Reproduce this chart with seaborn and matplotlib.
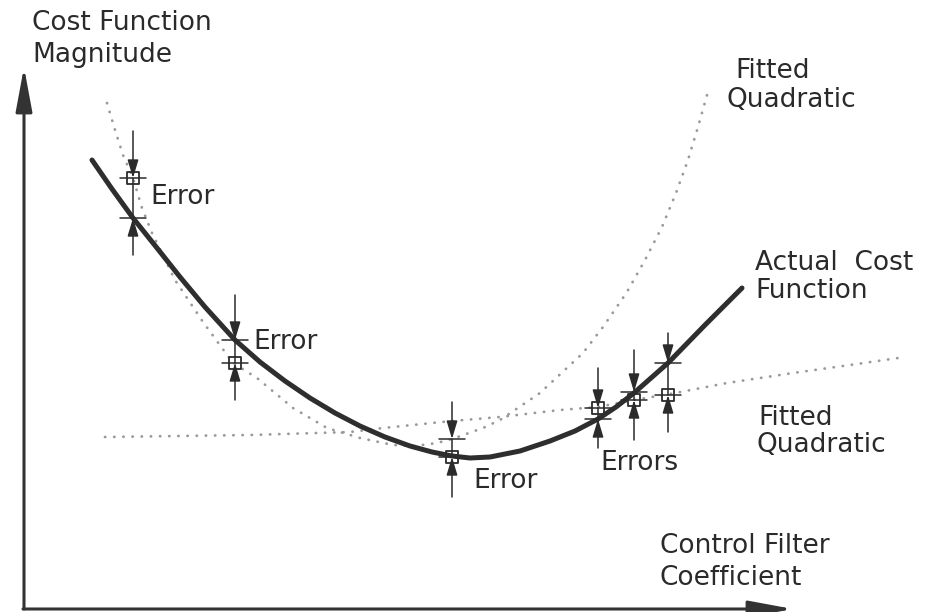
import matplotlib
matplotlib.use("Agg")
import matplotlib.pyplot as plt
import seaborn as sns
import pandas as pd

# Actual cost function (control filter coefficient vs. cost magnitude)
actual_coef = [68, 88, 109, 133, 156, 181, 211, 236, 261, 286, 311, 336, 361, 386, 408, 428,
               446, 466, 496, 526, 551, 574, 592, 610, 627, 644, 681, 718]
actual_cost = [448, 419, 390, 360, 331, 301, 268, 246, 227, 210, 195, 182, 171, 162, 156, 152,
               150, 151, 157, 167, 177, 189, 201, 215, 230, 245, 283, 320]

# Quadratic fitted to the widely spaced samples
steep_coef = [83, 91, 99, 109, 118, 128, 151, 179, 209, 233, 251, 269, 303, 336, 369, 391, 413, 428,
              459, 476, 516, 559, 579, 603, 621, 638, 652, 664, 674, 683]
steep_cost = [505, 478, 453, 430, 400, 375, 328, 286, 245, 230, 215, 200, 180, 170, 163, 162, 165, 169,
              180, 188, 215, 255, 281, 316, 348, 381, 415, 448, 481, 513]

# Quadratic fitted to the closely spaced samples
flat_coef = [81, 226, 326, 359, 428, 476, 536, 574, 610, 646, 703, 769, 826, 881]
flat_cost = [171, 173, 176, 180, 187, 191, 198, 201, 208, 214, 225, 235, 243, 251]

# Error markers: coefficient, upper / lower value, extent of the leader line
err_coef = [109, 211, 428, 574, 610, 644]
err_upper = [430, 268, 169, 200, 216, 245]
err_lower = [390, 245, 151, 189, 208, 213]
err_top = [477, 313, 206, 240, 258, 275]
err_bottom = [353, 208, 111, 160, 168, 176]
square_on = ["upper", "lower", "lower", "upper", "lower", "lower"]

labels = [
    ("Cost Function", 8, 578), ("Magnitude", 8, 546),
    ("Error", 126, 404), ("Error", 229, 259), ("Error", 449, 120), ("Errors", 576, 138),
    ("Fitted", 711, 530), ("Quadratic", 703, 501),
    ("Actual  Cost", 731, 338), ("Function", 731, 310),
    ("Fitted", 734, 183), ("Quadratic", 733, 156),
    ("Control Filter", 636, 55), ("Coefficient", 636, 23),
]

sns.set_theme(style="white")
plt.rcParams["font.family"] = ["DejaVu Sans"]

ink = "#2b2b2b"
dots = "#9a9a9a"

fig = plt.figure(figsize=(9.27, 6.12), dpi=100)
ax = fig.add_axes([0, 0, 1, 1])
ax.set_xlim(-24, 903)
ax.set_ylim(-4, 608)
ax.set_axis_off()

actual = pd.DataFrame({"coef": actual_coef, "cost": actual_cost})
steep = pd.DataFrame({"coef": steep_coef, "cost": steep_cost})
flat = pd.DataFrame({"coef": flat_coef, "cost": flat_cost})

dot_style = dict(color=dots, linewidth=2.0, dash_capstyle="round")
sns.lineplot(data=steep, x="coef", y="cost", sort=False, ax=ax, **dot_style)
sns.lineplot(data=flat, x="coef", y="cost", sort=False, ax=ax, **dot_style)
for line in ax.lines:
    line.set_dashes((0.1, 3.2))
sns.lineplot(data=actual, x="coef", y="cost", sort=False, ax=ax,
             color="#2e2e2e", linewidth=3.6, solid_capstyle="round", solid_joinstyle="round")

# Axes drawn as arrows
ax_arrow = dict(arrowstyle="-|>,head_length=2.7,head_width=0.5", color="#333333",
                lw=2.2, shrinkA=0, shrinkB=0, mutation_scale=10)
ax.annotate("", xy=(0, 541), xytext=(0, -1), arrowprops=ax_arrow)
ax.annotate("", xy=(769, -1), xytext=(-1, -1), arrowprops=ax_arrow)

# Error indicators: arrows pointing at both values, ticks and sample squares
err_arrow = dict(arrowstyle="-|>,head_length=1.1,head_width=0.33", color=ink,
                 lw=1.1, shrinkA=0, shrinkB=0, mutation_scale=10)
sq_x, sq_y = [], []
for x, up, lo, top, bot, where in zip(err_coef, err_upper, err_lower, err_top, err_bottom, square_on):
    ax.annotate("", xy=(x, up), xytext=(x, top), arrowprops=err_arrow)
    ax.annotate("", xy=(x, lo), xytext=(x, bot), arrowprops=err_arrow)
    ax.plot([x, x], [up, lo], color=ink, lw=1.1)
    for v in (up, lo):
        ax.plot([x - 13, x + 13], [v, v], color=ink, lw=1.1)
    sq_x.append(x)
    sq_y.append(up if where == "upper" else lo)

sns.scatterplot(x=sq_x, y=sq_y, marker="s", s=70, facecolor="none",
                edgecolor=ink, linewidth=1.3, ax=ax, zorder=5)

for text, x, y in labels:
    ax.text(x, y, text, fontsize=19, color="#2a2a2a", ha="left", va="baseline")

fig.savefig("out.png", dpi=100, facecolor="white")
